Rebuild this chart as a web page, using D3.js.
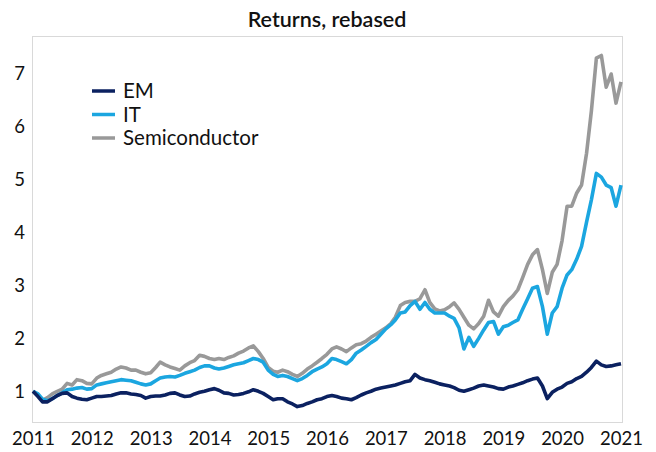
<!doctype html>
<html lang="en">
<head>
<meta charset="utf-8">
<title>Returns, rebased</title>
<style>
body { margin: 0; background: #fff; font-family: Lato, "Noto Sans", sans-serif; }
.tick text { fill: #111; }
</style>
</head>
<body>
<div id="chart"></div>
<script src="https://cdn.jsdelivr.net/npm/d3@7"></script>
<script>
// monthly points, Jan 2011 .. Jan 2021
var seriesNames = ["EM", "IT", "Semiconductor"];
var seriesColors = ["#0b2160", "#1ba6e0", "#999999"];

var em = [
  1.00,0.90,0.80,0.80,0.86,0.92,0.96,0.97,0.90,0.87,0.85,0.84,
  0.87,0.90,0.90,0.91,0.92,0.95,0.97,0.97,0.95,0.94,0.92,0.87,
  0.90,0.91,0.91,0.93,0.96,0.97,0.93,0.90,0.91,0.95,0.98,1.00,
  1.03,1.05,1.02,0.97,0.96,0.93,0.94,0.96,0.99,1.03,1.00,0.96,
  0.90,0.84,0.86,0.86,0.80,0.76,0.71,0.73,0.77,0.80,0.84,0.86,
  0.90,0.92,0.90,0.87,0.86,0.84,0.88,0.93,0.97,1.00,1.04,1.06,
  1.08,1.10,1.12,1.15,1.18,1.20,1.32,1.25,1.22,1.20,1.17,1.14,
  1.12,1.10,1.07,1.02,1.00,1.03,1.06,1.10,1.12,1.10,1.08,1.05,
  1.04,1.08,1.10,1.13,1.16,1.20,1.23,1.25,1.10,0.86,0.98,1.04,
  1.08,1.15,1.18,1.24,1.28,1.36,1.45,1.57,1.50,1.47,1.48,1.50,
  1.52
];
var it = [
  1.00,0.95,0.85,0.82,0.86,0.92,0.97,1.03,1.04,1.06,1.07,1.04,
  1.05,1.12,1.14,1.16,1.18,1.20,1.22,1.21,1.20,1.17,1.14,1.12,
  1.14,1.20,1.25,1.27,1.28,1.27,1.30,1.34,1.37,1.40,1.45,1.48,
  1.48,1.44,1.42,1.44,1.47,1.50,1.52,1.54,1.58,1.62,1.60,1.55,
  1.40,1.32,1.28,1.30,1.28,1.24,1.20,1.24,1.30,1.37,1.42,1.46,
  1.52,1.62,1.60,1.56,1.52,1.60,1.72,1.78,1.85,1.92,1.98,2.08,
  2.18,2.26,2.35,2.48,2.50,2.62,2.70,2.55,2.68,2.55,2.48,2.48,
  2.48,2.42,2.38,2.20,1.80,2.02,1.85,2.00,2.16,2.30,2.32,2.08,
  2.22,2.25,2.30,2.35,2.55,2.75,2.95,2.98,2.60,2.08,2.48,2.60,
  2.95,3.20,3.30,3.50,3.74,4.20,4.62,5.12,5.05,4.90,4.85,4.50,
  4.90
];
var semi = [
  1.00,0.93,0.83,0.88,0.95,1.00,1.04,1.15,1.12,1.22,1.20,1.15,
  1.14,1.25,1.30,1.33,1.36,1.42,1.46,1.44,1.40,1.40,1.36,1.33,
  1.35,1.45,1.55,1.50,1.46,1.43,1.40,1.48,1.54,1.58,1.68,1.66,
  1.62,1.60,1.62,1.60,1.64,1.67,1.72,1.76,1.82,1.86,1.75,1.62,
  1.45,1.38,1.36,1.40,1.37,1.32,1.28,1.34,1.42,1.48,1.55,1.62,
  1.70,1.80,1.84,1.80,1.75,1.82,1.88,1.90,1.95,2.02,2.08,2.14,
  2.20,2.28,2.40,2.62,2.68,2.70,2.70,2.75,2.92,2.68,2.56,2.52,
  2.54,2.60,2.67,2.55,2.40,2.25,2.18,2.28,2.42,2.72,2.50,2.42,
  2.60,2.72,2.80,2.92,3.15,3.40,3.58,3.68,3.30,2.85,3.25,3.40,
  3.85,4.50,4.50,4.75,4.90,5.50,6.30,7.30,7.35,6.75,7.00,6.45,
  6.85
];
var yTicks = [1, 2, 3, 4, 5, 6, 7];
var xYears = [2011, 2012, 2013, 2014, 2015, 2016, 2017, 2018, 2019, 2020, 2021];

var width = 656, height = 452;
var margin = {top: 37, right: 34, bottom: 29, left: 32};

var months = d3.timeMonths(new Date(2011, 0, 1), new Date(2021, 0, 2));
var values = [em, it, semi];

var svg = d3.select("#chart").append("svg")
    .attr("width", width)
    .attr("height", height);

var x = d3.scaleTime()
    .domain([new Date(2011, 0, 1), new Date(2021, 0, 1)])
    .range([margin.left + 1, width - margin.right - 1]);

var y = d3.scaleLinear()
    .domain([0.4, 7.7])
    .range([height - margin.bottom, margin.top]);

svg.append("text")
    .attr("x", 327)
    .attr("y", 27)
    .attr("text-anchor", "middle")
    .style("font-size", "21.5px")
    .style("font-weight", "600")
    .style("fill", "#111")
    .text("Returns, rebased");

// plot frame
svg.append("rect")
    .attr("x", margin.left + 0.5)
    .attr("y", margin.top - 0.5)
    .attr("width", width - margin.left - margin.right)
    .attr("height", height - margin.top - margin.bottom)
    .style("fill", "none")
    .style("stroke", "#d9d9d9");

var line = d3.line()
    .x(function(d) { return x(d.date); })
    .y(function(d) { return y(d.value); });

// draw grey first so IT and EM sit on top
[2, 1, 0].forEach(function(s) {
    var pts = months.map(function(m, i) { return {date: m, value: values[s][i]}; });
    svg.append("path")
        .datum(pts)
        .attr("d", line)
        .style("fill", "none")
        .style("stroke", seriesColors[s])
        .style("stroke-width", 3.6)
        .style("stroke-linejoin", "round");
});

var yAxis = svg.append("g")
    .attr("transform", "translate(" + (margin.left - 7) + ",0)")
    .call(d3.axisLeft(y).tickValues(yTicks).tickSize(0).tickPadding(0).tickFormat(d3.format("d")));
yAxis.select(".domain").remove();
yAxis.selectAll("text").style("font-size", "18.5px").style("font-family", "Lato, 'Noto Sans', sans-serif");

var xAxis = svg.append("g")
    .attr("transform", "translate(0," + (height - margin.bottom) + ")")
    .call(d3.axisBottom(x)
        .tickValues(xYears.map(function(yr) { return new Date(yr, 0, 1); }))
        .tickSize(0).tickPadding(9)
        .tickFormat(d3.timeFormat("%Y")));
xAxis.select(".domain").remove();
xAxis.selectAll("text").style("font-size", "18.5px").style("font-family", "Lato, 'Noto Sans', sans-serif");

// legend
var legend = svg.append("g");
seriesNames.forEach(function(name, i) {
    var ly = 91 + i * 23.5;
    legend.append("line")
        .attr("x1", 92).attr("x2", 115)
        .attr("y1", ly).attr("y2", ly)
        .style("stroke", seriesColors[i])
        .style("stroke-width", 3.5);
    legend.append("text")
        .attr("x", 123)
        .attr("y", ly)
        .attr("dy", "0.35em")
        .style("font-size", "20.5px")
        .style("fill", "#111")
        .text(name);
});
</script>
</body>
</html>
